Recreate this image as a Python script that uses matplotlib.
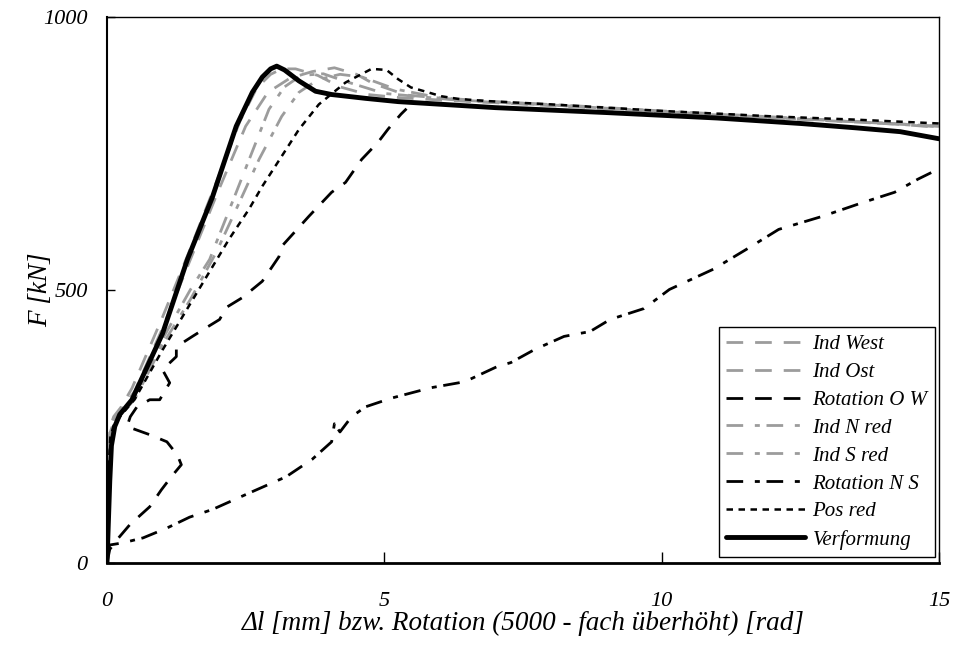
import matplotlib
matplotlib.use("Agg")
import matplotlib.pyplot as plt

# ---------------- data ----------------
ind_west_x = [0.0, 0.01, 0.03, 0.06, 0.12, 0.25, 0.45, 1.0, 1.5, 2.0, 2.4, 2.7, 2.95, 3.15, 3.4, 3.8, 4.2, 4.7, 5.3, 6.0, 7.0, 8.5, 10.0, 11.5, 13.0, 14.2, 15.0]
ind_west_y = [0, 120, 200, 250, 268, 285, 320, 450, 575, 705, 810, 870, 895, 905, 905, 893, 872, 858, 852, 848, 843, 835, 826, 818, 810, 804, 798]

ind_ost_x = [0.0, 0.01, 0.03, 0.06, 0.12, 0.25, 0.5, 1.0, 1.5, 2.0, 2.5, 2.9, 3.3, 3.7, 4.1, 4.5, 4.8, 5.4, 6.5, 8.0, 10.0, 12.0, 13.5, 15.0]
ind_ost_y = [0, 110, 190, 245, 262, 280, 315, 430, 555, 680, 800, 862, 888, 900, 907, 895, 878, 857, 847, 839, 827, 816, 808, 800]

rot_ow_x = [0.0, 0.05, 0.2, 0.41, 0.77, 0.98, 1.16, 1.34, 1.28, 1.22, 1.08, 0.77, 0.36, 0.42, 0.54, 0.77, 0.95, 1.13, 1.0, 1.25, 1.25, 1.54, 1.79, 2.03, 2.15, 2.44, 2.80, 3.10, 3.15, 3.64, 4.05, 4.30, 4.59, 4.89, 5.07, 5.30, 5.40]
rot_ow_y = [0, 25, 45, 70, 103, 134, 158, 180, 195, 204, 222, 235, 250, 268, 286, 299, 299, 330, 354, 378, 396, 415, 431, 446, 468, 486, 516, 561, 580, 635, 679, 697, 739, 771, 795, 822, 832]

ind_n_x = [0.0, 0.01, 0.03, 0.06, 0.12, 0.25, 0.5, 1.0, 1.5, 1.85, 2.33, 2.92, 3.2, 3.5, 3.9, 4.3, 5.0, 6.5, 8.0, 10.0, 12.0, 13.5, 15.0]
ind_n_y = [0, 100, 180, 240, 258, 275, 305, 410, 500, 556, 679, 831, 872, 893, 896, 882, 860, 846, 839, 827, 816, 808, 799]

ind_s_x = [0.0, 0.01, 0.03, 0.06, 0.12, 0.25, 0.5, 1.0, 1.5, 1.97, 2.33, 2.74, 3.15, 3.46, 3.8, 4.2, 4.6, 5.2, 6.0, 7.0, 8.5, 10.0, 12.0, 13.5, 15.0]
ind_s_y = [0, 90, 170, 235, 255, 272, 300, 400, 482, 569, 648, 739, 818, 862, 885, 895, 890, 868, 852, 845, 837, 828, 817, 809, 800]

rot_ns_x = [0.0, 0.05, 0.29, 0.65, 1.08, 1.49, 1.90, 2.56, 3.23, 3.70, 4.05, 4.10, 4.20, 4.41, 4.66, 5.13, 5.84, 6.45, 7.04, 7.28, 7.71, 8.24, 8.71, 9.07, 9.68, 10.14, 10.93, 11.52, 12.11, 12.90, 13.62, 14.20, 14.62, 14.90, 15.0]
rot_ns_y = [20, 33, 37, 46, 64, 84, 98, 128, 158, 190, 222, 255, 240, 268, 286, 302, 321, 332, 360, 367, 391, 415, 424, 446, 466, 501, 538, 574, 611, 635, 660, 679, 703, 717, 720]

pos_x = [0.0, 0.01, 0.03, 0.06, 0.12, 0.25, 0.5, 1.0, 1.65, 2.2, 2.56, 2.80, 3.15, 3.46, 3.82, 4.3, 4.77, 5.04, 5.25, 5.48, 5.79, 6.02, 6.33, 6.86, 8.0, 10.0, 12.0, 13.5, 15.0]
pos_y = [0, 90, 170, 230, 252, 270, 300, 390, 500, 593, 648, 690, 745, 794, 840, 880, 905, 903, 886, 871, 862, 855, 850, 846, 840, 828, 818, 812, 805]

verf_x = [0.0, 0.02, 0.05, 0.08, 0.14, 0.23, 0.45, 1.0, 1.45, 1.9, 2.33, 2.62, 2.80, 2.95, 3.06, 3.2, 3.46, 3.76, 4.05, 4.66, 5.25, 7.0, 9.0, 11.0, 12.5, 13.5, 14.3, 15.0]
verf_y = [0, 60, 150, 215, 250, 272, 299, 420, 556, 670, 800, 862, 890, 905, 910, 903, 883, 864, 858, 851, 845, 834, 825, 815, 805, 797, 790, 777]

labels = ["Ind West", "Ind Ost", "Rotation O W", "Ind N red", "Ind S red",
          "Rotation N S", "Pos red", "Verformung"]
x_ticks = [0, 5, 10, 15]
y_ticks = [0, 500, 1000]

# ---------------- figure ----------------
plt.rcParams['font.family'] = ['Liberation Serif', 'DejaVu Serif']
plt.rcParams['font.style'] = 'italic'

fig = plt.figure(figsize=(9.58, 6.46), dpi=100)
ax = fig.add_axes([107/958, 1-563/646, (939-107)/958, (563-17)/646])

gray = '#9c9c9c'
series = [
    (ind_west_x, ind_west_y, dict(color=gray, lw=2.0, dashes=(6, 4.3))),
    (ind_ost_x, ind_ost_y, dict(color=gray, lw=2.0, dashes=(6, 4.3))),
    (rot_ow_x, rot_ow_y, dict(color='black', lw=2.0, dashes=(6, 4.3))),
    (ind_n_x, ind_n_y, dict(color=gray, lw=2.0, dashes=(6, 4.2, 1.8, 2.4))),
    (ind_s_x, ind_s_y, dict(color=gray, lw=2.0, dashes=(6, 4.2, 1.8, 2.4))),
    (rot_ns_x, rot_ns_y, dict(color='black', lw=2.0, dashes=(6, 4.2, 1.8, 2.4))),
    (pos_x, pos_y, dict(color='black', lw=1.8, dashes=(2.6, 2.2))),
    (verf_x, verf_y, dict(color='black', lw=3.5, solid_capstyle='round')),
]
for (xs, ys, st), lab in zip(series, labels):
    ax.plot(xs, ys, label=lab, **st)

ax.set_xlim(0, 15)
ax.set_ylim(0, 1000)
ax.set_xticks(x_ticks)
ax.set_yticks(y_ticks)
ax.set_xticklabels([str(t) for t in x_ticks])
ax.set_yticklabels([str(t) for t in y_ticks])
ax.tick_params(axis='x', direction='in', length=8, width=1, pad=21, labelsize=16)
ax.tick_params(axis='y', direction='in', length=6, width=1, pad=14, labelsize=16)
for s in ['top', 'right', 'left']:
    ax.spines[s].set_linewidth(1.0)
ax.spines['bottom'].set_linewidth(2.0)
ax.spines['left'].set_linewidth(1.5)

ax.set_xlabel("Δl [mm] bzw. Rotation (5000 - fach überhöht) [rad]", fontsize=19.5, labelpad=0)
ax.set_ylabel("F [kN]", fontsize=19.5, labelpad=-7)

leg = ax.legend(loc='lower right', bbox_to_anchor=(0.995, 0.011), fontsize=15,
                frameon=True, fancybox=False, edgecolor='black', framealpha=1,
                handlelength=3.8, handletextpad=0.35, labelspacing=0.4,
                borderpad=0.35, borderaxespad=0)
leg.get_frame().set_linewidth(1.0)

fig.savefig("out.png", dpi=100)
